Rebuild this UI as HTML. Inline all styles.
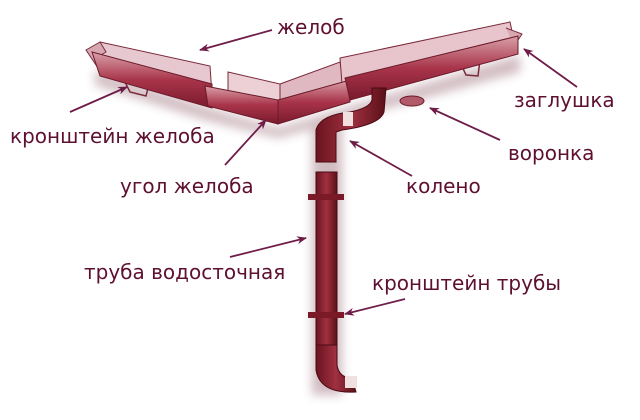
<!DOCTYPE html>
<html><head><meta charset="utf-8"><style>
html,body{margin:0;padding:0;background:#fff;}
svg{display:block}
text{font-family:"DejaVu Sans","Liberation Sans",sans-serif;font-size:20px;fill:#5e1030;}
</style></head><body>
<svg width="640" height="420" viewBox="0 0 640 420" xmlns="http://www.w3.org/2000/svg">
<defs>
<linearGradient id="g1" x1="0" y1="0" x2="0" y2="1">
<stop offset="0" stop-color="#d9a0a8"/><stop offset="0.5" stop-color="#a8344a"/><stop offset="1" stop-color="#7a1a2c"/></linearGradient>
<linearGradient id="p" x1="0" y1="0" x2="1" y2="0">
<stop offset="0" stop-color="#6a1420"/><stop offset="0.5" stop-color="#a03040"/><stop offset="1" stop-color="#5a1018"/></linearGradient>
<marker id="ah" markerWidth="10" markerHeight="8" refX="9" refY="4" orient="auto" markerUnits="userSpaceOnUse">
<path d="M0,0 L10,4 L0,8 L3,4 Z" fill="#6e1c48"/></marker>
<filter id="sh"><feGaussianBlur stdDeviation="5"/></filter>
</defs>
<g filter="url(#sh)" opacity="0.35" fill="#7a4050">
<polygon points="95,70 210,108 278,128 520,55 520,72 278,138 205,120 95,85"/>
<rect x="312" y="120" width="30" height="275"/>
</g>
<!-- back walls -->
<polygon points="100,42 210,66 212,95 100,66" fill="#e8c8d0" stroke="#7a2a3a" stroke-width="1"/>
<polygon points="228,72 280,84 280,110 228,98" fill="#ecd0d6" stroke="#7a2a3a" stroke-width="1"/>
<polygon points="280,84 340,62 345,90 280,110" fill="#e0b8c2" stroke="#7a2a3a" stroke-width="1"/>
<polygon points="340,58 510,22 514,40 342,84" fill="#e8c4cc" stroke="#7a2a3a" stroke-width="1"/>
<!-- brackets -->
<path d="M86,50 L100,42 L106,52 L96,58 L98,68 Z" fill="#d8a8b2" stroke="#7a2a3a"/>
<path d="M124,80 L130,92 L146,96 L150,80" fill="none" stroke="#7a2a3a" stroke-width="1.5"/>
<path d="M460,62 L466,75 L478,76 L480,60" fill="none" stroke="#7a2a3a" stroke-width="1.5"/>
<path d="M506,28 L522,34 L514,46" fill="#d8a8b2" stroke="#7a2a3a"/>
<!-- front faces -->
<polygon points="92,52 212,84 212,108 100,76" fill="url(#g1)" stroke="#6a1a2a"/>
<polygon points="205,86 278,100 278,124 208,106" fill="url(#g1)" stroke="#6a1a2a"/>
<polygon points="278,100 350,80 350,102 278,124" fill="url(#g1)" stroke="#6a1a2a"/>
<polygon points="345,78 518,36 518,54 350,100" fill="url(#g1)" stroke="#6a1a2a"/>
<ellipse cx="412" cy="101" rx="12" ry="5" fill="#b05a6a" stroke="#6a1a2a"/>
<!-- top elbow -->
<path d="M372,88 L386,88 L384,112 Q380,125 342,130 L336,132 L336,162 L316,162 L316,130 Q320,115 350,112 Q370,108 372,100 Z" fill="url(#p)" stroke="#4a0a14"/>
<rect x="343" y="112" width="10" height="14" fill="#f0e0e0"/>
<!-- pipe -->
<rect x="316" y="172" width="21" height="175" fill="url(#p)" stroke="#4a0a14"/>
<rect x="308" y="194" width="36" height="6" fill="#7a1a28"/>
<rect x="308" y="312" width="36" height="6" fill="#7a1a28"/>
<!-- bottom elbow -->
<path d="M316,345 L337,345 L337,365 Q339,378 352,378 L356,392 Q320,394 316,370 Z" fill="url(#p)" stroke="#4a0a14"/>
<rect x="345" y="376" width="12" height="12" fill="#f0e0e0"/>
<g stroke="#6e1c48" stroke-width="1.8" fill="none" marker-end="url(#ah)">
<line x1="272" y1="30" x2="200" y2="50"/>
<line x1="577" y1="87" x2="524" y2="49"/>
<line x1="500" y1="140" x2="430" y2="108"/>
<line x1="70" y1="112" x2="127" y2="87"/>
<line x1="225" y1="165" x2="266" y2="120"/>
<line x1="412" y1="176" x2="350" y2="141"/>
<line x1="230" y1="257" x2="306" y2="238"/>
<line x1="405" y1="299" x2="345" y2="314"/>
</g>
<text x="277" y="34">желоб</text>
<text x="514" y="107">заглушка</text>
<text x="508" y="160">воронка</text>
<text x="10" y="143">кронштейн желоба</text>
<text x="120" y="193">угол желоба</text>
<text x="406" y="193">колено</text>
<text x="84" y="279">труба водосточная</text>
<text x="372" y="290">кронштейн трубы</text>
</svg>
</body></html>
